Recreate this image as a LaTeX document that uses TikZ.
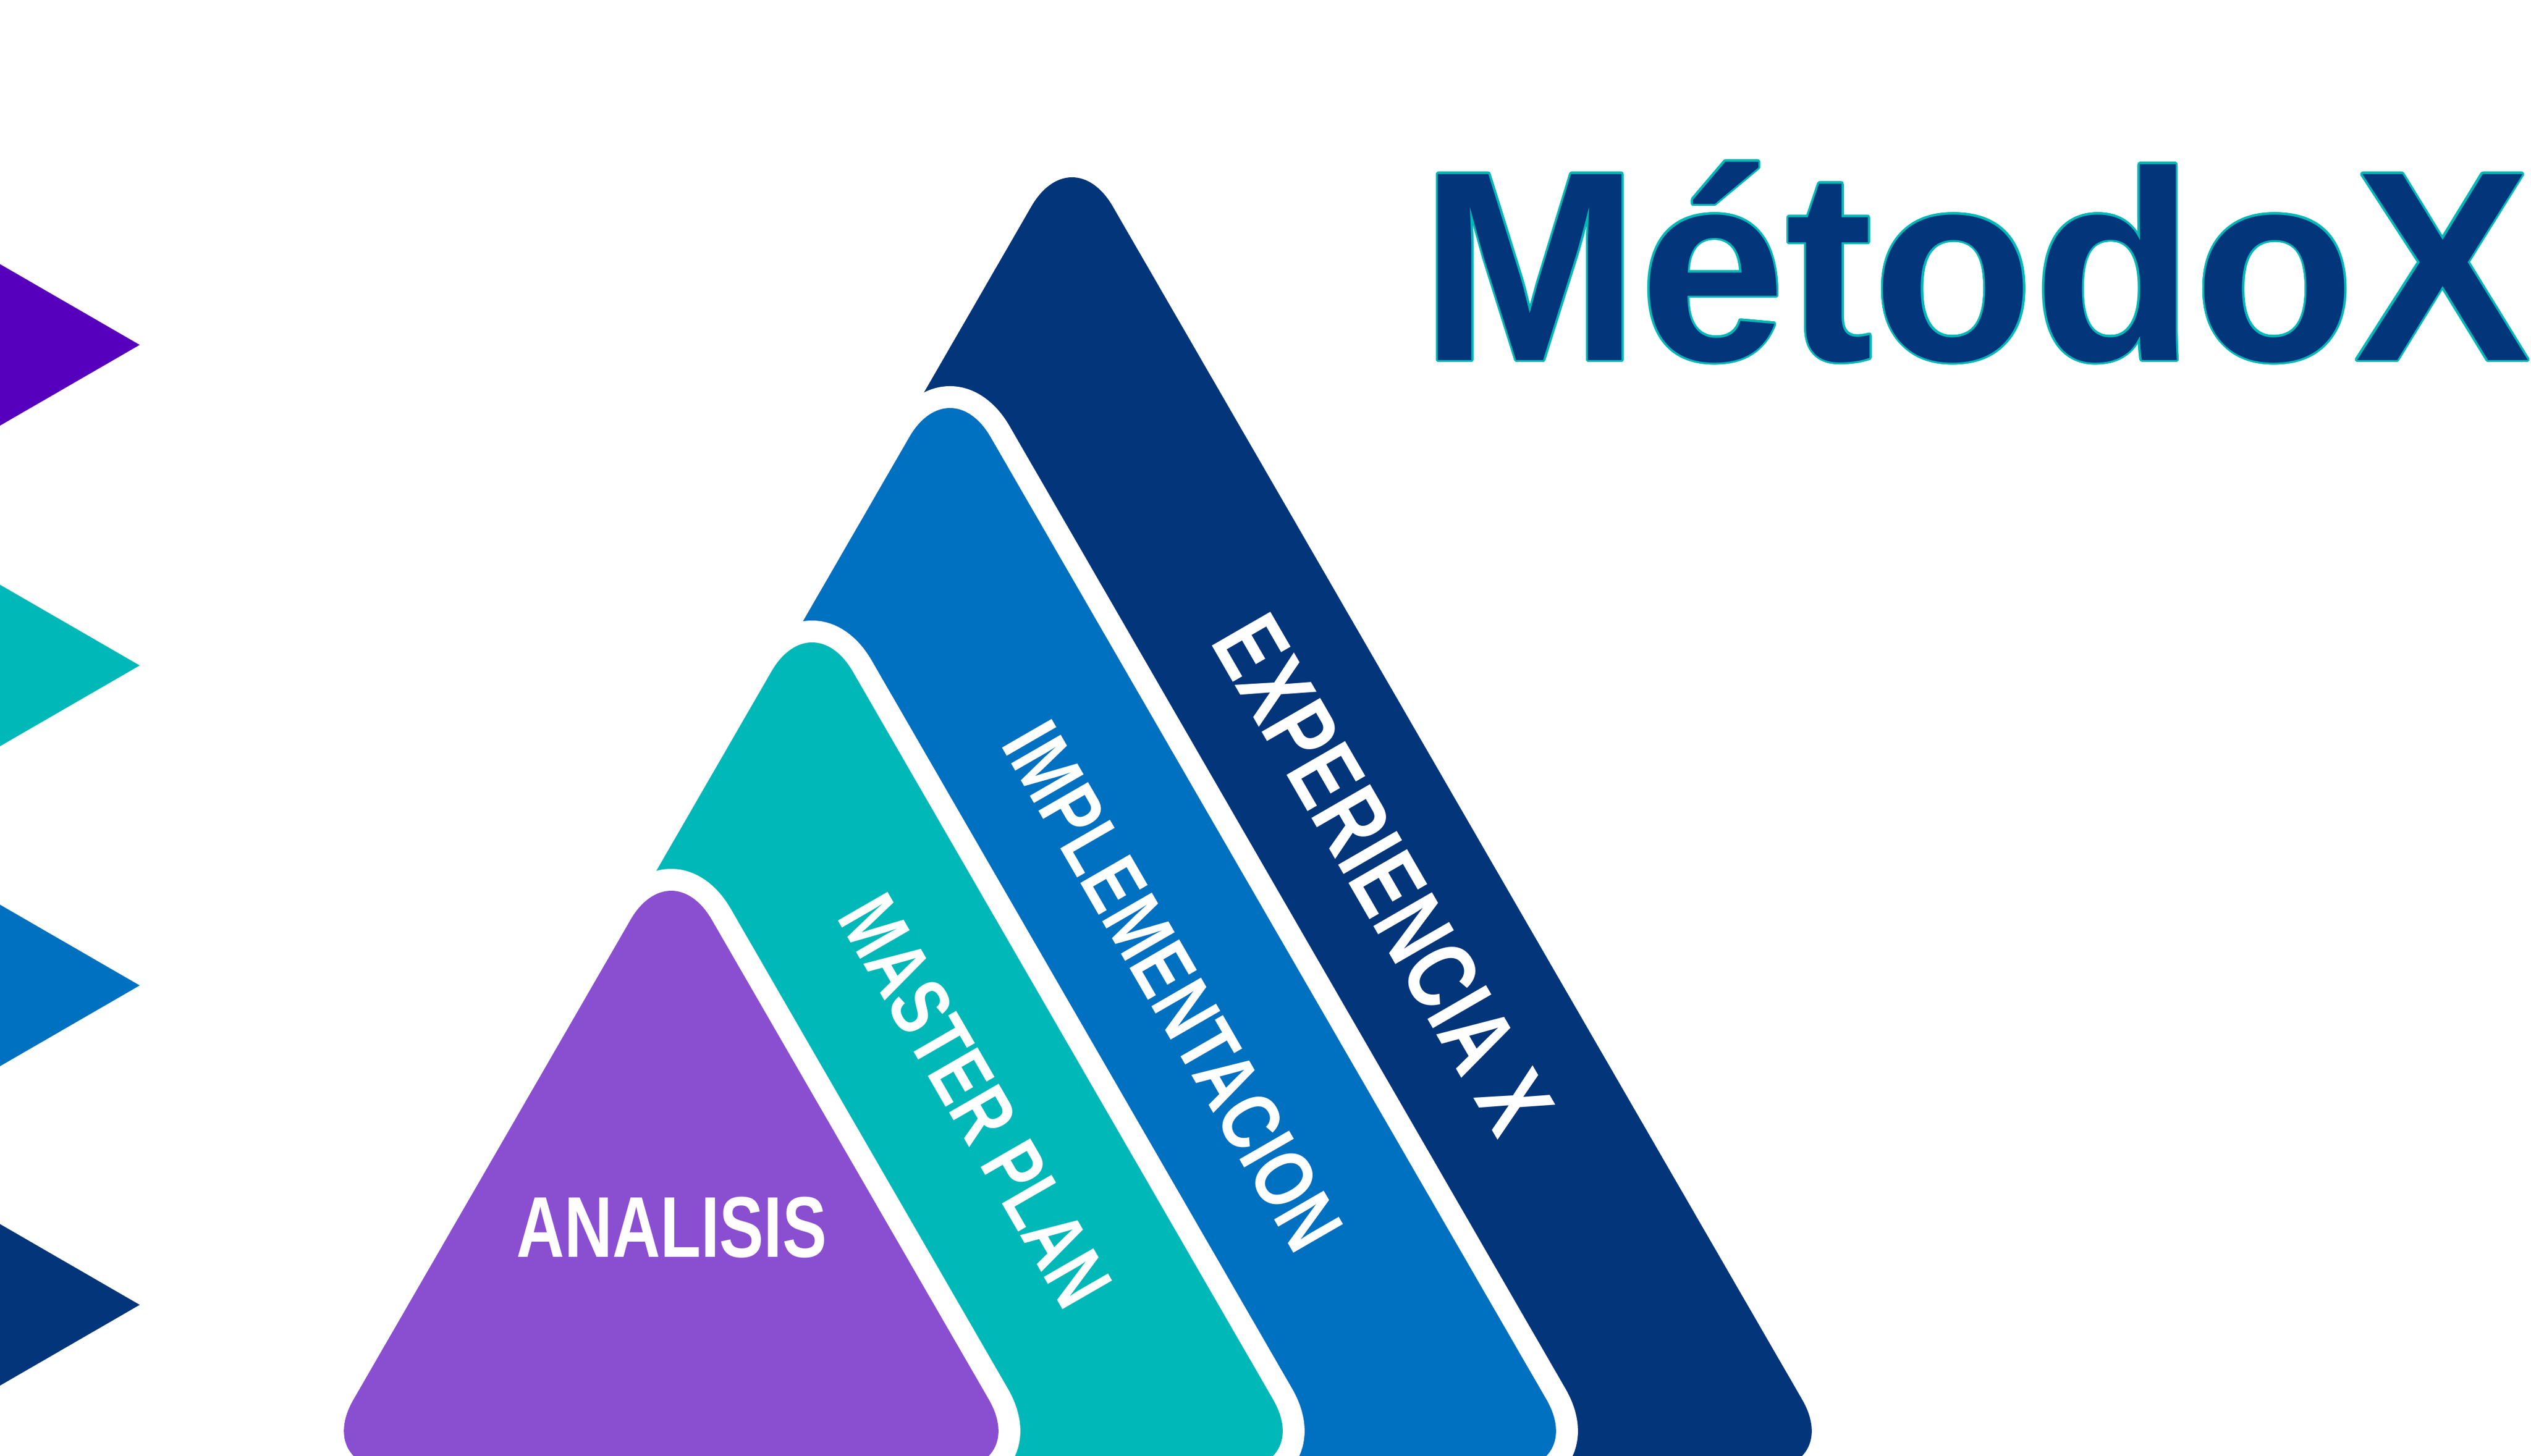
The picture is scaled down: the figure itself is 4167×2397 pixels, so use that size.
\documentclass[tikz,border=0pt]{standalone}
\usepackage{fontspec}
\setmainfont{Liberation Sans}
\usepackage{graphicx}
\usepackage{contour}
\contourlength{1pt}

\definecolor{navyX}{HTML}{03357A}
\definecolor{blueX}{HTML}{0070C0}
\definecolor{tealX}{HTML}{00B8B8}
\definecolor{purpleX}{HTML}{8A4FD0}
\definecolor{violetX}{HTML}{5600BE}

\begin{document}
\begin{tikzpicture}[x=0.01cm, y=-0.01cm]

\tikzstyle{layer}=[rounded corners=1.34cm, preaction={draw=white, line width=0.72cm}]
\tikzstyle{arrowmark}=[draw=none]
\tikzstyle{bandtext}=[text=white, inner sep=0pt, font=\bfseries]

\useasboundingbox (0,0) rectangle (4167,2397);
\clip (0,0) rectangle (4167,2397);

% markers on the left
\fill[arrowmark, violetX] (0,435) -- (230,568) -- (0,701) -- cycle;
\fill[arrowmark, tealX] (0,963) -- (230,1096) -- (0,1229) -- cycle;
\fill[arrowmark, blueX] (0,1490) -- (230,1623) -- (0,1756) -- cycle;
\fill[arrowmark, navyX] (0,2016) -- (230,2149) -- (0,2282) -- cycle;

% layers, back to front
\fill[layer, navyX] (1765,224) -- (3034,2421) -- (497,2421) -- cycle;
\fill[layer, blueX] (1564,604) -- (2613,2421) -- (515,2421) -- cycle;
\fill[layer, tealX] (1337,990) -- (2163,2421) -- (511,2421) -- cycle;
\fill[layer, purpleX] (1105,1399) -- (1695,2421) -- (515,2421) -- cycle;

% texts
\node (A) [bandtext, anchor=base] at (1106,2070) {\fontsize{40.4}{44}\selectfont\scalebox{0.77}[1]{ANALISIS}};
\node (MP) [bandtext, rotate=-60] at (1606,1813) {\fontsize{39}{42}\selectfont\scalebox{0.76}[1]{MASTER PLAN}};
\node (IM) [bandtext, rotate=-60] at (1931,1624) {\fontsize{39}{42}\selectfont\scalebox{0.786}[1]{IMPLEMENTACION}};
\node (EX) [bandtext, rotate=-60] at (2277,1440) {\fontsize{46}{50}\selectfont\scalebox{0.76}[1]{EXPERIENCIA X}};

\node (T) [anchor=base west, inner sep=0pt, text=navyX, font=\bfseries] at (2338,593) {\fontsize{126.6}{130}\selectfont\scalebox{0.972}[1]{\contour{tealX}{MétodoX}}};

\end{tikzpicture}
\end{document}
